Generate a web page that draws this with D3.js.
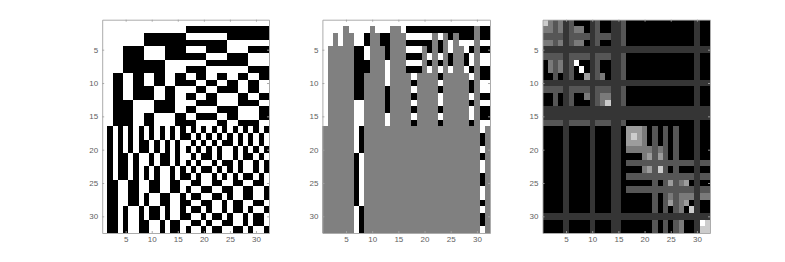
<!DOCTYPE html>
<html>
<head>
<meta charset="utf-8">
<script src="https://cdn.jsdelivr.net/npm/d3@7"></script>
<style>
  html, body { margin: 0; padding: 0; background: #fff; }
  .axis text { font-family: "Liberation Sans", Arial, sans-serif; font-size: 8px; fill: #606060; }
  .axis path, .axis line { stroke: #a3a3a3; stroke-width: 0.9; }
</style>
</head>
<body>
<div id="chart-area"></div>
<script>
// cell values, one string per row, 0 = white, 1 = black
var signRows = [
  "0000 0000 0000 0000 0000 0000 0000 0000",
  "0000 0000 0000 0000 1111 1111 1111 1111",
  "0000 0000 1111 1111 0000 0000 1111 1111",
  "0000 0000 1111 1111 1111 1111 0000 0000",
  "0000 1111 0000 1111 0000 1111 0000 1111",
  "0000 1111 0000 1111 1111 0000 1111 0000",
  "0000 1111 1111 0000 0000 1111 1111 0000",
  "0000 1111 1111 0000 1111 0000 0000 1111",
  "0011 0011 0011 0011 0011 0011 0011 0011",
  "0011 0011 0011 0011 1100 1100 1100 1100",
  "0011 0011 1100 1100 0011 0011 1100 1100",
  "0011 0011 1100 1100 1100 1100 0011 0011",
  "0011 1100 0011 1100 0011 1100 0011 1100",
  "0011 1100 0011 1100 1100 0011 1100 0011",
  "0011 1100 1100 0011 0011 1100 1100 0011",
  "0011 1100 1100 0011 1100 0011 0011 1100",
  "0101 0101 0101 0101 0101 0101 0101 0101",
  "0101 0101 0101 0101 1010 1010 1010 1010",
  "0101 0101 1010 1010 0101 0101 1010 1010",
  "0101 0101 1010 1010 1010 1010 0101 0101",
  "0101 1010 0101 1010 0101 1010 0101 1010",
  "0101 1010 0101 1010 1010 0101 1010 0101",
  "0101 1010 1010 0101 0101 1010 1010 0101",
  "0101 1010 1010 0101 1010 0101 0101 1010",
  "0110 0110 0110 0110 0110 0110 0110 0110",
  "0110 0110 0110 0110 1001 1001 1001 1001",
  "0110 0110 1001 1001 0110 0110 1001 1001",
  "0110 0110 1001 1001 1001 1001 0110 0110",
  "0110 1001 0110 1001 0110 1001 0110 1001",
  "0110 1001 0110 1001 1001 0110 1001 0110",
  "0110 1001 1001 0110 0110 1001 1001 0110",
  "0110 1001 1001 0110 1001 0110 0110 1001"
];

// middle panel: how many rows of each column stay visible above the gray
var visibleRows = [16, 4, 2, 4, 1, 2, 32, 32, 8, 1, 2, 4, 16, 1, 1, 2,
                   8, 16, 8, 4, 8, 2, 16, 2, 8, 2, 4, 8, 16, 1, 32, 16];

// right panel, index into grayLevels
var levelRows = [
  "5323120001200112 0000000000000100",
  "3323123301200112 0000000000000100",
  "2222122221222112 0000000000000100",
  "3323123301200112 0000000000000100",
  "1111111111111111 1111111111111111",
  "2222122221222112 0000000000000100",
  "0323126001200112 0000000000000100",
  "0323120601200112 0000000000000100",
  "0020120041230112 0000000000000100",
  "1111111111111111 1111111111111111",
  "2222122221222112 0000000000000100",
  "0020120031233112 0000000000000100",
  "0020120001235112 0000000000000100",
  "1111111111111111 1111111111111111",
  "1111111111111111 1111111111111111",
  "2222122221222112 0000000000000100",
  "0000100001000110 4443020202000100",
  "0000100001000110 4543020202000100",
  "0000100001000110 4443020202000100",
  "0000100001000110 3333323202000100",
  "0000100001000110 0003424202000100",
  "0000100001000110 2222222222222122",
  "0000100001000110 0003425202000100",
  "0000100001000110 2222222222222122",
  "0000100001000110 0000020242340100",
  "0000100001000110 2222222222222122",
  "0000100001000110 0000020232333133",
  "0000100001000110 0000020242340100",
  "0000100001000110 0000020202305100",
  "1111111111111111 1111111111111111",
  "0000100001000110 0000020202300165",
  "0000100001000110 0000020202300155"
];

var grayLevels = ["#000000", "#363636", "#565656", "#7a7a7a", "#9c9c9c", "#cccccc", "#ffffff"];
var maskGray = "#808080";
var tickValues = [5, 10, 15, 20, 25, 30];

var w = 785, h = 262;
var top_ = 19.7, bottom = 233;
var panels = [
  { left: 102.2, right: 269 },
  { left: 322.4, right: 490 },
  { left: 542.5, right: 710 }
];

var svg = d3.select("#chart-area").append("svg")
  .attr("width", w).attr("height", h)
  .style("display", "block");

var defs = svg.append("defs");
defs.append("filter").attr("id", "soft")
  .attr("x", "-2%").attr("y", "-2%").attr("width", "104%").attr("height", "104%")
  .append("feGaussianBlur").attr("stdDeviation", 0.35);

function cellsFor(rows) {
  var cells = [];
  rows.forEach(function (row, r) {
    row.replace(/ /g, "").split("").forEach(function (c, j) {
      cells.push({ row: r + 1, col: j + 1, value: +c });
    });
  });
  return cells;
}

function drawPanel(p, cells, fill) {
  var x = d3.scaleLinear().domain([0.5, 32.5]).range([p.left, p.right]);
  var y = d3.scaleLinear().domain([0.5, 32.5]).range([top_, bottom]);
  var g = svg.append("g");

  var clipId = "clip" + Math.round(p.left);
  defs.append("clipPath").attr("id", clipId).append("rect")
    .attr("x", p.left).attr("y", top_)
    .attr("width", p.right - p.left).attr("height", bottom - top_);

  g.append("g")
    .attr("clip-path", "url(#" + clipId + ")")
    .append("g")
    .attr("filter", "url(#soft)")
    .selectAll("rect")
    .data(cells)
    .enter()
    .append("rect")
    .attr("shape-rendering", "crispEdges")
    .attr("x", function (d) { return x(d.col - 0.5); })
    .attr("y", function (d) { return y(d.row - 0.5); })
    .attr("width", function (d) { return x(d.col + 0.5) - x(d.col - 0.5); })
    .attr("height", function (d) { return y(d.row + 0.5) - y(d.row - 0.5); })
    .attr("fill", fill);

  var xAxis = d3.axisBottom(x).tickValues(tickValues).tickSizeInner(-2).tickSizeOuter(0).tickPadding(3.5);
  var yAxis = d3.axisLeft(y).tickValues(tickValues).tickSizeInner(-2).tickSizeOuter(0).tickPadding(4);
  var xTop = d3.axisTop(x).tickValues(tickValues).tickSizeInner(-2).tickSizeOuter(0).tickFormat("");
  var yRight = d3.axisRight(y).tickValues(tickValues).tickSizeInner(-2).tickSizeOuter(0).tickFormat("");

  g.append("g").attr("class", "axis").attr("transform", "translate(0," + bottom + ")").call(xAxis);
  g.append("g").attr("class", "axis").attr("transform", "translate(" + p.left + ",0)").call(yAxis);
  g.append("g").attr("class", "axis").attr("transform", "translate(0," + top_ + ")").call(xTop);
  g.append("g").attr("class", "axis").attr("transform", "translate(" + p.right + ",0)").call(yRight);
}

var signCells = cellsFor(signRows);

drawPanel(panels[0], signCells, function (d) {
  return d.value ? "#000" : "#fff";
});

drawPanel(panels[1], signCells, function (d) {
  if (d.row > visibleRows[d.col - 1]) return maskGray;
  return d.value ? "#000" : "#fff";
});

drawPanel(panels[2], cellsFor(levelRows), function (d) {
  return grayLevels[d.value];
});
</script>
</body>
</html>
